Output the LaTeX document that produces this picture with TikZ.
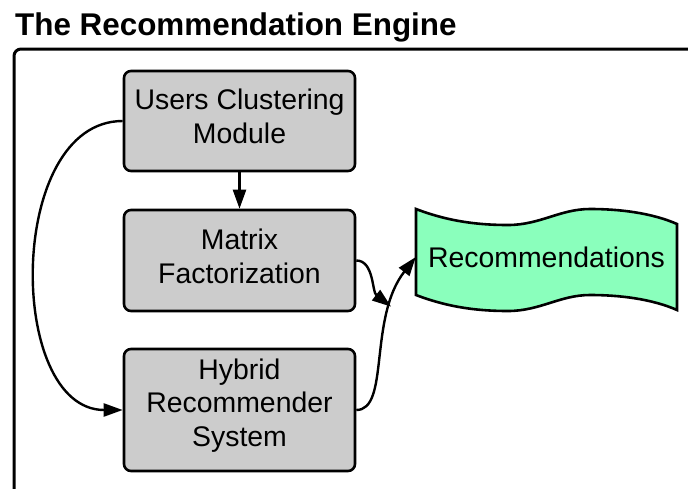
\documentclass[tikz,border=0pt]{standalone}
\usepackage{fontspec}
\setmainfont{Liberation Sans}
\usetikzlibrary{arrows.meta}
\definecolor{boxgray}{HTML}{CCCCCC}
\definecolor{recgreen}{HTML}{8AFFBC}
\begin{document}
\begin{tikzpicture}[x=1pt,y=-1pt,
  procbox/.style={draw, line width=2.6pt, fill=boxgray, rounded corners=7pt,
    minimum width=231pt, inner sep=0pt},
  boxtext/.style={align=center, inner sep=0pt, yshift=4.5pt,
    font=\fontsize{28.4}{33.8}\selectfont},
  conn/.style={line width=2.4pt, -{Triangle[length=19pt,width=13pt]}},
  wave/.style={draw, line width=2.6pt, fill=recgreen, line join=miter},
  frame/.style={draw, line width=3pt, rounded corners=7pt},
]
\useasboundingbox (0,0) rectangle (688,488);
\clip (0,0) rectangle (688,488);

% title
\node[anchor=base west, inner sep=0pt, font=\bfseries\fontsize{31.4}{36}\selectfont] (title) at (15,35) {The Recommendation Engine};

% outer frame
\path[frame] (14,49) rectangle (730,530);

% process boxes
\node[procbox, minimum height=100pt,
  label={[boxtext, name=ucmtext]center:Users Clustering\\Module}] (ucm) at (239.5,121) {};
\node[procbox, minimum height=101pt,
  label={[boxtext, name=mftext]center:Matrix\\Factorization}] (mf) at (239.5,260.5) {};
\node[procbox, minimum height=122pt,
  label={[boxtext, name=hrstext]center:Hybrid\\Recommender\\System}] (hrs) at (239.5,410) {};

% recommendations (tape shape)
\path[wave] (416,209) .. controls (450,222) and (480,225) .. (508,225)
  .. controls (540,225) and (560,209) .. (590,209)
  .. controls (620,209) and (652,213) .. (677,224)
  -- (677,310)
  .. controls (652,299) and (620,295) .. (590,295)
  .. controls (560,295) and (540,311) .. (508,311)
  .. controls (480,311) and (450,308) .. (416,295) -- cycle;
\node[font=\fontsize{28.4}{33.5}\selectfont, minimum width=261pt, inner sep=0pt] (rec) at (546.5,257) {Recommendations};

% connectors
\draw[conn] (ucm) -- (mf);
\draw[conn] (ucm.west) .. controls (6,121) and (6,410) .. (hrs.west);
\draw[conn] (hrs.east) .. controls (390,410) and (368,318) .. (rec.west) coordinate[pos=0.75] (j);
\draw[conn] (mf.east) .. controls (374,260.5) and (372,292) .. (j);
\end{tikzpicture}
\end{document}
